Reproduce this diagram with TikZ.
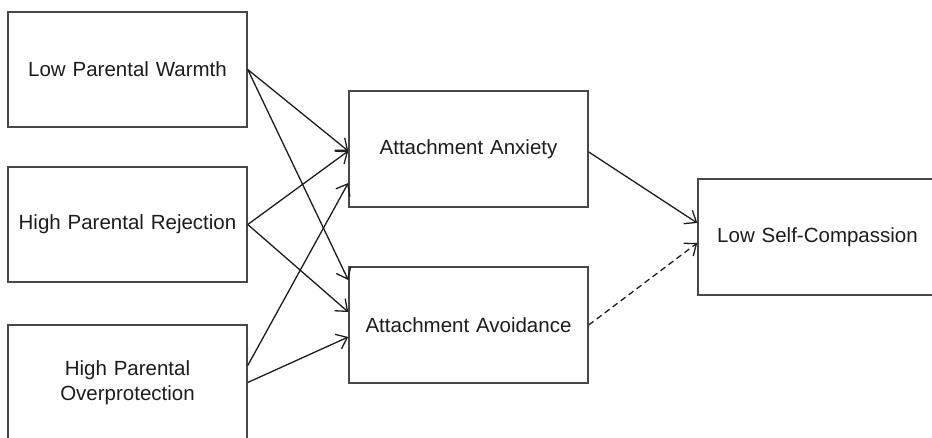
\documentclass[tikz,border=0pt]{standalone}
\usepackage{fontspec}
\setmainfont{Liberation Sans}
\usetikzlibrary{arrows.meta}
\definecolor{boxline}{HTML}{484848}
\definecolor{ink}{HTML}{1C1C1C}
\begin{document}
\begin{tikzpicture}[x=1pt,y=-1pt,
  box/.style={draw=boxline, line width=1.5pt, rectangle, inner sep=0pt,
    minimum width=239pt, minimum height=115pt, text width=230pt, align=center,
    text=ink, font=\fontsize{20.5}{25}\selectfont},
  arr/.style={draw=ink, line width=1.3pt, -{Straight Barb[length=10pt,width=16pt,line width=1.3pt]}},
  dsh/.style={arr, dash pattern=on 6pt off 4pt}]
\useasboundingbox (0,0) rectangle (932,438);
\node[box] (w) at (127.5,69.5) {Low Parental Warmth};
\node[box] (r) at (127.5,224.5) {High Parental Rejection};
\node[box] (o) at (127.5,382.5) {High Parental\\Overprotection};
\node[box, minimum height=116pt] (anx) at (468.5,149) {Attachment Anxiety};
\node[box, minimum height=116pt] (avo) at (468.5,325) {Attachment Avoidance};
\node[box, minimum height=116pt] (lsc) at (817.5,237) {Low Self-Compassion};
\draw[arr] (w.east) -- ([yshift=-2pt]anx.west);
\draw[arr] (w.east) -- ([yshift=45pt]avo.west);
\draw[arr] (r.east) -- ([yshift=-2pt]anx.west);
\draw[arr] (r.east) -- ([yshift=13pt]avo.west);
\draw[arr] ([yshift=17pt]o.east) -- ([yshift=-34pt]anx.west);
\draw[arr] (o.east) -- ([yshift=-12pt]avo.west);
\draw[arr] ([yshift=-3pt]anx.east) -- ([yshift=14pt]lsc.west);
\draw[dsh] (avo.east) -- ([yshift=-6pt]lsc.west);
\end{tikzpicture}
\end{document}
